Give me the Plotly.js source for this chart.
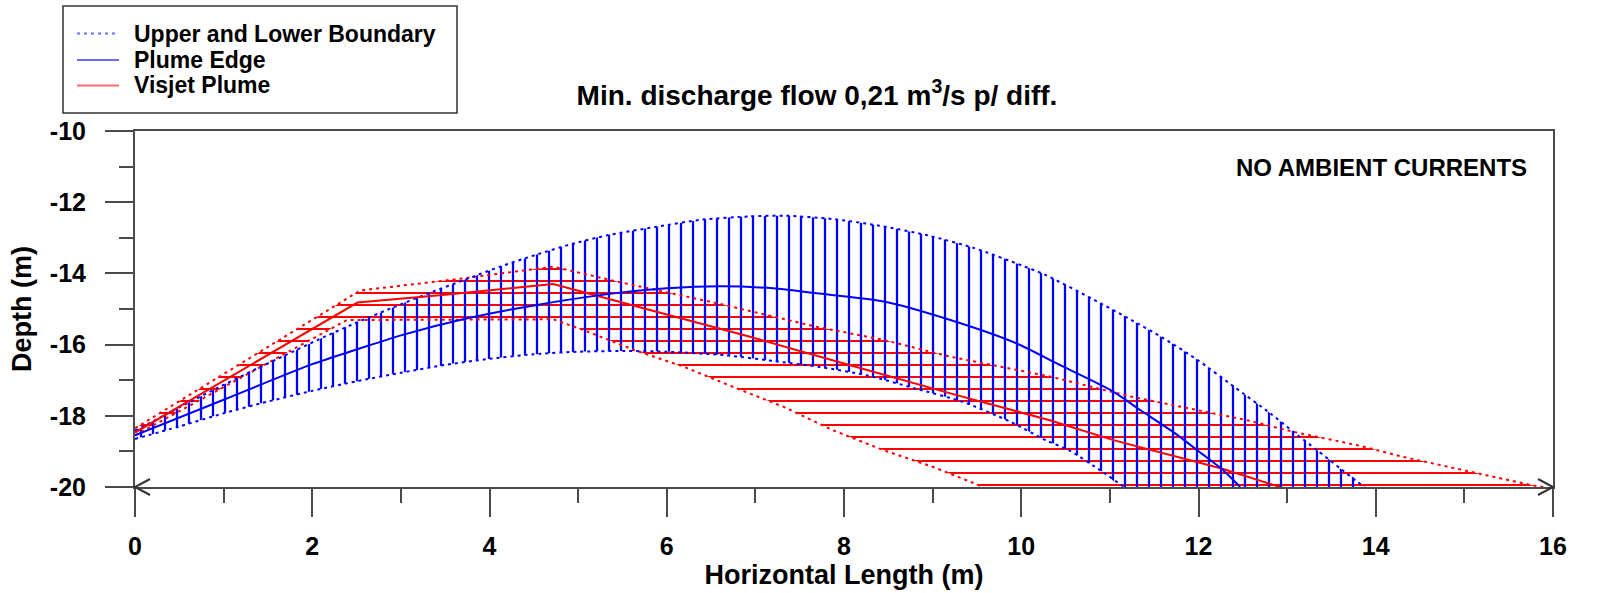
<!DOCTYPE html>
<html>
<head>
<meta charset="utf-8">
<script src="https://cdn.plot.ly/plotly-3.0.1.min.js"></script>
<style>
html,body{margin:0;padding:0;background:#ffffff;}
#chart{width:1598px;height:593px;}
</style>
</head>
<body>
<div id="chart"></div>
<script>
// ---------- DATA ----------
// Blue plume (Plume Edge) : centreline
const blueEdgeX = [0, 1.0, 2.0, 2.51, 3.0, 3.75, 4.5, 5.25, 6.0, 6.6, 7.2, 7.69, 8.45, 9.2, 9.95, 10.4, 11.01, 11.35, 11.74, 12.04, 12.26, 12.47];
const blueEdgeY = [-18.55, -17.55, -16.55, -16.13, -15.74, -15.26, -14.9, -14.61, -14.42, -14.36, -14.42, -14.56, -14.79, -15.31, -15.97, -16.53, -17.28, -17.85, -18.5, -19.07, -19.49, -20];
// Blue upper boundary
const blueUpperX = [0, 0.51, 0.92, 1.32, 1.72, 2.12, 2.52, 2.92, 3.33, 3.72, 4.12, 4.52, 4.92, 5.33, 5.86, 6.4, 6.93, 7.34, 7.86, 8.4, 8.94, 9.47, 10.01, 10.27, 10.79, 11.2, 11.61, 12.0, 12.41, 12.82, 13.07, 13.33, 13.61, 13.87];
const blueUpperY = [-18.42, -17.75, -17.23, -16.74, -16.27, -15.8, -15.36, -14.95, -14.54, -14.18, -13.81, -13.48, -13.18, -12.93, -12.7, -12.49, -12.4, -12.38, -12.47, -12.66, -12.93, -13.29, -13.78, -14.04, -14.7, -15.25, -15.83, -16.45, -17.2, -17.95, -18.45, -18.95, -19.5, -20];
// Blue lower boundary
const blueLowerX = [0, 0.5, 1.0, 1.5, 2.0, 2.5, 3.0, 3.5, 4.0, 4.5, 5.0, 5.5, 6.0, 6.66, 7.2, 7.73, 8.27, 8.8, 9.34, 9.88, 10.28, 10.54, 10.92, 11.16];
const blueLowerY = [-18.65, -18.3, -17.93, -17.6, -17.3, -17.03, -16.79, -16.57, -16.4, -16.27, -16.2, -16.18, -16.2, -16.3, -16.46, -16.63, -16.87, -17.23, -17.61, -18.17, -18.69, -18.97, -19.58, -20];

// Red plume (Visjet Plume) : centreline
const redCenterX = [0, 2.51, 3.5, 4.72, 5.81, 6.94, 8.07, 9.2, 10.33, 11.05, 12.26, 12.92];
const redCenterY = [-18.47, -14.82, -14.6, -14.3, -15.03, -15.78, -16.58, -17.37, -18.13, -18.69, -19.48, -20];
// Red upper boundary
const redUpperX = [0, 2.54, 3.67, 4.72, 5.44, 6.57, 7.69, 8.45, 9.2, 9.76, 10.33, 11.22, 12.0, 12.56, 13.07, 13.8, 14.32, 14.92, 15.78, 15.9];
const redUpperY = [-18.35, -14.48, -14.15, -13.81, -14.23, -14.84, -15.5, -15.87, -16.34, -16.62, -16.9, -17.45, -17.85, -18.13, -18.45, -18.83, -19.16, -19.49, -19.96, -20];
// Red lower boundary
const redLowerX = [0, 2.39, 4.72, 5.06, 5.63, 6.19, 6.75, 7.32, 7.88, 8.45, 9.01, 9.57];
const redLowerY = [-18.55, -15.31, -15.29, -15.59, -16.15, -16.62, -17.19, -17.75, -18.41, -18.97, -19.44, -20];

// Axes
const xTickVals = [0, 2, 4, 6, 8, 10, 12, 14, 16];
const xTickText = ['0', '2', '4', '6', '8', '10', '12', '14', '16'];
const xMinorVals = [1, 3, 5, 7, 9, 11, 13, 15];
const yTickVals = [-10, -12, -14, -16, -18, -20];
const yTickText = ['-10', '-12', '-14', '-16', '-18', '-20'];
const yMinorVals = [-11, -13, -15, -17, -19];
const xRange = [0, 16];
const yRange = [-20, -10];

// Texts
const chartTitle = 'Min. discharge flow 0,21 m<sup>3</sup>/s p/ diff.';
const xTitle = 'Horizontal Length (m)';
const yTitle = 'Depth (m)';
const noteText = 'NO AMBIENT CURRENTS';
const legendNames = ['Upper and Lower Boundary', 'Plume Edge', 'Visjet Plume'];

// ---------- STYLE ----------
const FONT = 'Liberation Sans, Arial, Helvetica, sans-serif';
const BLUE = '#0000ff';
const RED = '#ff0000';
const AXC = '#4a4a4a';
const DOT = '3px,4px';
const SMOOTH = {shape: 'spline', smoothing: 0.7};

// polygons for hatched areas (built from boundary arrays)
const bluePolyX = blueUpperX.concat(blueLowerX.slice().reverse());
const bluePolyY = blueUpperY.concat(blueLowerY.slice().reverse());
const redPolyX = redUpperX.concat(redLowerX.slice().reverse());
const redPolyY = redUpperY.concat(redLowerY.slice().reverse());

const traces = [
  {x: redPolyX, y: redPolyY, mode: 'lines', line: {width: 0, color: RED}, fill: 'toself',
   fillcolor: 'rgba(0,0,0,0)',
   fillpattern: {shape: '-', size: 12, solidity: 0.17, fgcolor: RED, bgcolor: 'rgba(0,0,0,0)', fillmode: 'replace'},
   hoverinfo: 'skip', showlegend: false},
  {x: bluePolyX, y: bluePolyY, mode: 'lines', line: Object.assign({width: 0, color: BLUE}, SMOOTH), fill: 'toself',
   fillcolor: 'rgba(0,0,0,0)',
   fillpattern: {shape: '|', size: 12, solidity: 0.19, fgcolor: BLUE, bgcolor: 'rgba(0,0,0,0)', fillmode: 'replace'},
   hoverinfo: 'skip', showlegend: false},
  {x: redUpperX, y: redUpperY, mode: 'lines', line: {color: RED, width: 2, dash: DOT}, showlegend: false},
  {x: redLowerX, y: redLowerY, mode: 'lines', line: {color: RED, width: 2, dash: DOT}, showlegend: false},
  {x: blueUpperX, y: blueUpperY, mode: 'lines', name: legendNames[0], line: Object.assign({color: BLUE, width: 2, dash: DOT}, SMOOTH), showlegend: false},
  {x: blueLowerX, y: blueLowerY, mode: 'lines', name: legendNames[0], line: Object.assign({color: BLUE, width: 2, dash: DOT}, SMOOTH), showlegend: false},
  {x: redCenterX, y: redCenterY, mode: 'lines', name: legendNames[2], line: {color: RED, width: 2}, showlegend: false},
  {x: blueEdgeX, y: blueEdgeY, mode: 'lines', name: legendNames[1], line: Object.assign({color: BLUE, width: 2}, SMOOTH), showlegend: false}
];

// plot area geometry in pixels (for paper-coordinate decorations)
const W = 1598, H = 593, ML = 135, MR = 45, MT = 131, MB = 106;
const PW = W - ML - MR, PH = H - MT - MB;
const px = v => (v - ML) / PW;            // pixel x -> paper x
const py = v => (H - MB - v) / PH;        // pixel y -> paper y

const legendRows = [33.5, 60, 85.5];
const legendLineColors = ['#6a6aff', '#6a6aff', '#ff6a6a'];
const legendDash = ['dot', 'solid', 'solid'];

const shapes = [
  // legend box
  {type: 'rect', xref: 'paper', yref: 'paper', x0: px(63), x1: px(457), y0: py(113), y1: py(6),
   line: {color: '#333333', width: 1.5}, fillcolor: 'rgba(0,0,0,0)'},
  // axis arrows
  {type: 'path', xref: 'paper', yref: 'paper',
   path: `M${15/PW},${8/PH} L0,0 L${15/PW},${-8/PH}`, line: {color: '#333333', width: 2}},
  {type: 'path', xref: 'paper', yref: 'paper',
   path: `M${1 - 15/PW},${8/PH} L1,0 L${1 - 15/PW},${-8/PH}`, line: {color: '#333333', width: 2}}
];
legendRows.forEach((r, i) => {
  shapes.push({type: 'line', xref: 'paper', yref: 'paper', x0: px(77), x1: px(119), y0: py(r), y1: py(r),
    line: {color: legendLineColors[i], width: 2, dash: legendDash[i] === 'dot' ? '3px,4px' : 'solid'}});
});

const annotations = legendNames.map((t, i) => ({
  text: t, xref: 'paper', yref: 'paper', x: px(132), y: py(legendRows[i]),
  xanchor: 'left', yanchor: 'middle', showarrow: false,
  font: {family: FONT, size: 23, color: '#000000', weight: 'bold'}
}));
annotations.push({
  text: noteText, xref: 'paper', yref: 'paper', x: px(1529), y: py(167),
  xanchor: 'right', yanchor: 'middle', showarrow: false,
  font: {family: FONT, size: 24, color: '#000000', weight: 'bold'}
});

const tickFont = {family: FONT, size: 25, color: '#000000', weight: 'bold'};
const titleFont = {family: FONT, size: 27, color: '#000000', weight: 'bold'};

const layout = {
  width: W, height: H,
  margin: {l: ML, r: MR, t: MT, b: MB, pad: 0},
  paper_bgcolor: '#ffffff', plot_bgcolor: '#ffffff',
  showlegend: false,
  title: {text: chartTitle, xref: 'container', yref: 'container', x: 817 / W, y: 1 - 95 / H,
          xanchor: 'center', yanchor: 'middle', font: {family: FONT, size: 28, color: '#000000', weight: 'bold'}},
  xaxis: {
    range: xRange, automargin: false, showgrid: false, zeroline: false,
    showline: true, linecolor: AXC, linewidth: 2, mirror: true,
    ticks: 'outside', ticklen: 28, tickwidth: 2, tickcolor: AXC,
    tickmode: 'array', tickvals: xTickVals, ticktext: xTickText, tickfont: tickFont,
    ticklabelstandoff: 8,
    minor: {tickmode: 'array', tickvals: xMinorVals, ticks: 'outside', ticklen: 14, tickwidth: 2, tickcolor: AXC, showgrid: false},
    title: {text: xTitle, font: titleFont, standoff: 6}
  },
  yaxis: {
    range: yRange, automargin: false, showgrid: false, zeroline: false,
    showline: true, linecolor: AXC, linewidth: 2, mirror: true,
    ticks: 'outside', ticklen: 28, tickwidth: 2, tickcolor: AXC,
    tickmode: 'array', tickvals: yTickVals, ticktext: yTickText, tickfont: tickFont,
    ticklabelstandoff: 14,
    minor: {tickmode: 'array', tickvals: yMinorVals, ticks: 'outside', ticklen: 14, tickwidth: 2, tickcolor: AXC, showgrid: false},
    title: {text: yTitle, font: titleFont, standoff: 10}
  },
  shapes: shapes,
  annotations: annotations
};

Plotly.newPlot('chart', traces, layout, {staticPlot: true, displayModeBar: false});
</script>
</body>
</html>
